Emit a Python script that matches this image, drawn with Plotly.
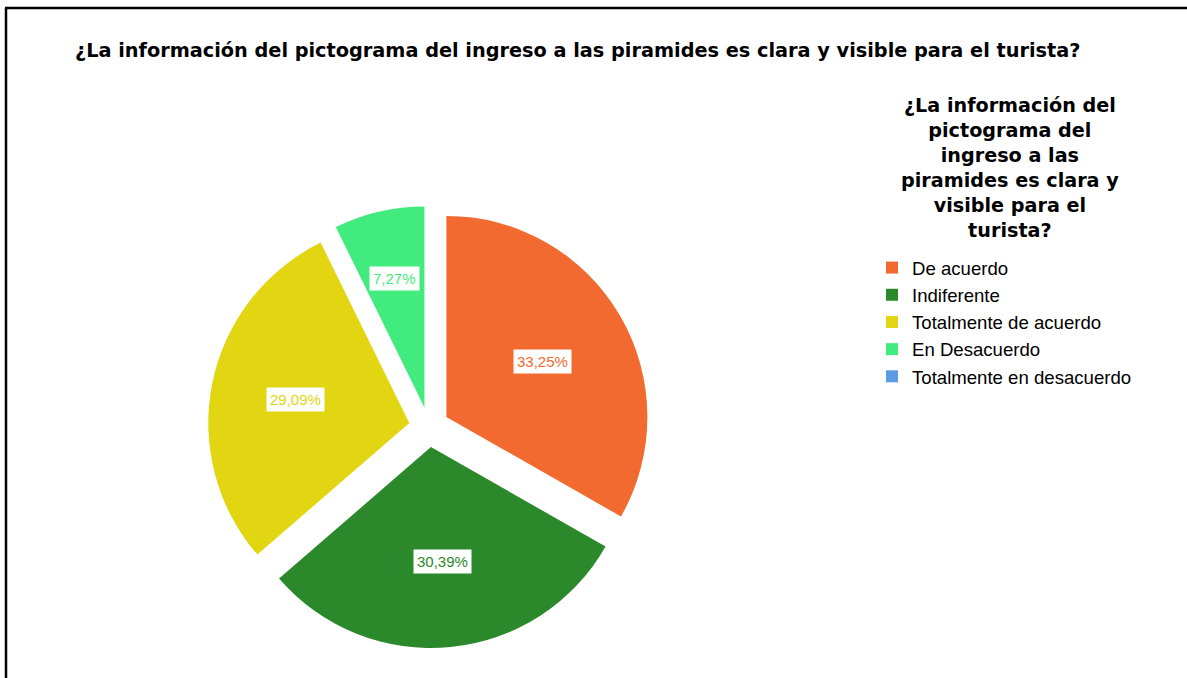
import math
import plotly.graph_objects as go

W, H = 1187, 678

title_text = "¿La información del pictograma del ingreso a las piramides es clara y visible para el turista?"
legend_title_lines = ["¿La información del", "pictograma del", "ingreso a las",
                      "piramides es clara y", "visible para el", "turista?"]
labels = ["De acuerdo", "Indiferente", "Totalmente de acuerdo", "En Desacuerdo",
          "Totalmente en desacuerdo"]
values = [33.25, 30.39, 29.09, 7.27, 0.0]
colors = ["#F26A2F", "#2B882B", "#E2D512", "#42EB7E", "#5B9BE6"]

FONT = "Liberation Sans, Arial, sans-serif"
BOLD_FONT = "DejaVu Sans, Liberation Sans, sans-serif"

# pie geometry (pixels)
cx, cy = 429, 427
R = 201
pull = 0.1
half = R * (1 + pull)

fig = go.Figure()
fig.add_trace(go.Pie(
    labels=labels,
    values=values,
    marker=dict(colors=colors, line=dict(width=0)),
    sort=False,
    direction="clockwise",
    rotation=0,
    pull=[pull] * len(values),
    textinfo="none",
    hoverinfo="label+percent",
    domain=dict(x=[(cx - half) / W, (cx + half) / W],
                y=[1 - (cy + half) / H, 1 - (cy - half) / H]),
    showlegend=True,
))

# percentage labels with white boxes, placed at each sector's centroid
total = sum(values)
start = 0.0
annotations = []
for v, c in zip(values, colors):
    ang = v / total * 360.0
    if v > 0:
        mid = math.radians(start + ang / 2)
        a = math.radians(ang / 2)
        dx, dy = math.sin(mid), -math.cos(mid)
        d = pull * R + 2 * R * math.sin(a) / (3 * a)
        px, py = cx + d * dx, cy + d * dy
        annotations.append(dict(
            x=px / W, y=1 - py / H, xref="paper", yref="paper",
            text=f"{v:.2f}".replace(".", ",") + "%",
            showarrow=False, font=dict(family=FONT, size=15, color=c),
            bgcolor="white", borderpad=3, xanchor="center", yanchor="middle"))
    start += ang

# legend title (centered lines)
annotations.append(dict(
    x=1010 / W, y=1 - 92 / H, xref="paper", yref="paper",
    xanchor="center", yanchor="top", align="center", showarrow=False,
    text="<b>" + "<br>".join(legend_title_lines) + "</b>",
    font=dict(family=BOLD_FONT, size=19.2, color="#000")))

fig.update_layout(
    width=W, height=H,
    margin=dict(l=0, r=0, t=0, b=0),
    paper_bgcolor="white",
    plot_bgcolor="white",
    font=dict(family=FONT, color="#000"),
    title=dict(text="<b>" + title_text + "</b>", x=75 / W, xanchor="left",
               y=1 - 50 / H, yanchor="middle", xref="paper", yref="paper",
               font=dict(family=BOLD_FONT, size=19.3, color="#000")),
    legend=dict(
        font=dict(family=FONT, size=18.6, color="#000"),
        x=872 / W, xanchor="left", y=1 - 249 / H, yanchor="top",
        bgcolor="rgba(0,0,0,0)", tracegroupgap=0,
    ),
    annotations=annotations,
    shapes=[
        dict(type="line", xref="paper", yref="paper", x0=5 / W, x1=1, y0=1 - 8 / H, y1=1 - 8 / H,
             line=dict(color="black", width=2.5)),
        dict(type="line", xref="paper", yref="paper", x0=6 / W, x1=6 / W, y0=0, y1=1 - 8 / H,
             line=dict(color="black", width=2.5)),
    ],
)

fig.write_html("out.html", config={"displayModeBar": False},
               post_script="document.body.style.margin='0';document.body.style.overflow='hidden';")
